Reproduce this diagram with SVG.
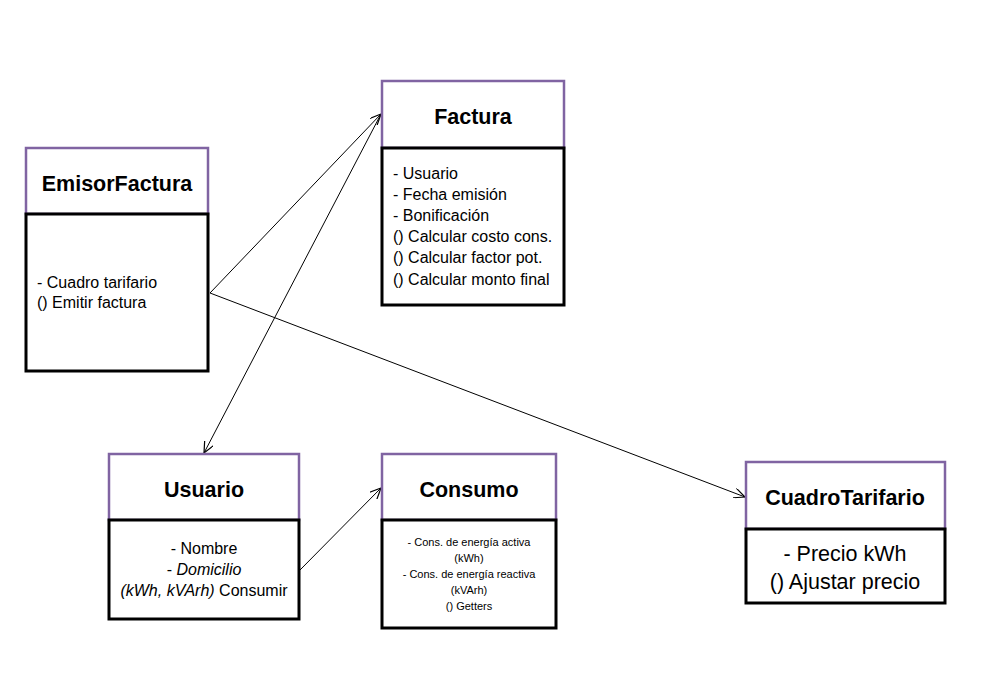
<svg xmlns="http://www.w3.org/2000/svg" width="987" height="680" viewBox="0 0 987 680">
<style>
.hd{fill:#fff;stroke:#8064A2;stroke-width:2.5}
.bd{fill:#fff;stroke:#000;stroke-width:3}
.t{font-family:"Liberation Sans",Arial,sans-serif;font-weight:bold;font-size:21.5px;fill:#000;text-anchor:middle}
.b{font-family:"Liberation Sans",Arial,sans-serif;font-size:16px;fill:#000}
.s{font-family:"Liberation Sans",Arial,sans-serif;font-size:11px;fill:#000;text-anchor:middle}
.l{font-family:"Liberation Sans",Arial,sans-serif;font-size:21.5px;fill:#000;text-anchor:middle}
.c{stroke:#000;stroke-width:1;fill:none;marker-end:url(#ah)}
</style>
<defs>
<marker id="ah" viewBox="0 0 12 10" refX="11" refY="5" markerWidth="12" markerHeight="10" markerUnits="userSpaceOnUse" orient="auto">
<path d="M0,0 L11,5 L0,10" fill="none" stroke="#000" stroke-width="1.2"/>
</marker>
</defs>
<rect width="987" height="680" fill="#fff"/>
<g id="connectors">
<line class="c" x1="210" y1="293" x2="381" y2="114"/>
<line class="c" x1="381" y1="114" x2="204" y2="453"/>
<line class="c" x1="210" y1="293" x2="745" y2="497"/>
<line class="c" x1="300" y1="570" x2="381" y2="488"/>
</g>
<g id="EmisorFactura">
<rect class="hd" x="26" y="148" width="182" height="66"/>
<rect class="bd" x="26" y="214" width="182" height="157"/>
<text class="t" x="117" y="191">EmisorFactura</text>
<text class="b" x="37" y="288">- Cuadro tarifario</text>
<text class="b" x="37" y="308">() Emitir factura</text>
</g>
<g id="Factura">
<rect class="hd" x="382" y="81" width="182" height="67"/>
<rect class="bd" x="382" y="148" width="182" height="157"/>
<text class="t" x="473" y="124">Factura</text>
<text class="b" x="393" y="179">- Usuario</text>
<text class="b" x="393" y="200">- Fecha emisión</text>
<text class="b" x="393" y="221">- Bonificación</text>
<text class="b" x="393" y="242">() Calcular costo cons.</text>
<text class="b" x="393" y="263">() Calcular factor pot.</text>
<text class="b" x="393" y="285">() Calcular monto final</text>
</g>
<g id="Usuario">
<rect class="hd" x="109" y="454" width="190" height="66"/>
<rect class="bd" x="109" y="520" width="190" height="99"/>
<text class="t" x="204" y="497">Usuario</text>
<text class="b" x="204" y="554" text-anchor="middle">- Nombre</text>
<text class="b" x="204" y="575" text-anchor="middle">- <tspan font-style="italic">Domicilio</tspan></text>
<text class="b" x="204" y="596" text-anchor="middle"><tspan font-style="italic">(kWh, kVArh)</tspan> Consumir</text>
</g>
<g id="Consumo">
<rect class="hd" x="382" y="454" width="174" height="66"/>
<rect class="bd" x="382" y="520" width="174" height="108"/>
<text class="t" x="469" y="497">Consumo</text>
<text class="s" x="469" y="546">- Cons. de energía activa</text>
<text class="s" x="469" y="562">(kWh)</text>
<text class="s" x="469" y="578">- Cons. de energía reactiva</text>
<text class="s" x="469" y="594">(kVArh)</text>
<text class="s" x="469" y="610">() Getters</text>
</g>
<g id="CuadroTarifario">
<rect class="hd" x="746" y="462" width="199" height="67"/>
<rect class="bd" x="746" y="529" width="199" height="74"/>
<text class="t" x="845" y="505">CuadroTarifario</text>
<text class="l" x="845" y="561">- Precio kWh</text>
<text class="l" x="845" y="589">() Ajustar precio</text>
</g>
</svg>
